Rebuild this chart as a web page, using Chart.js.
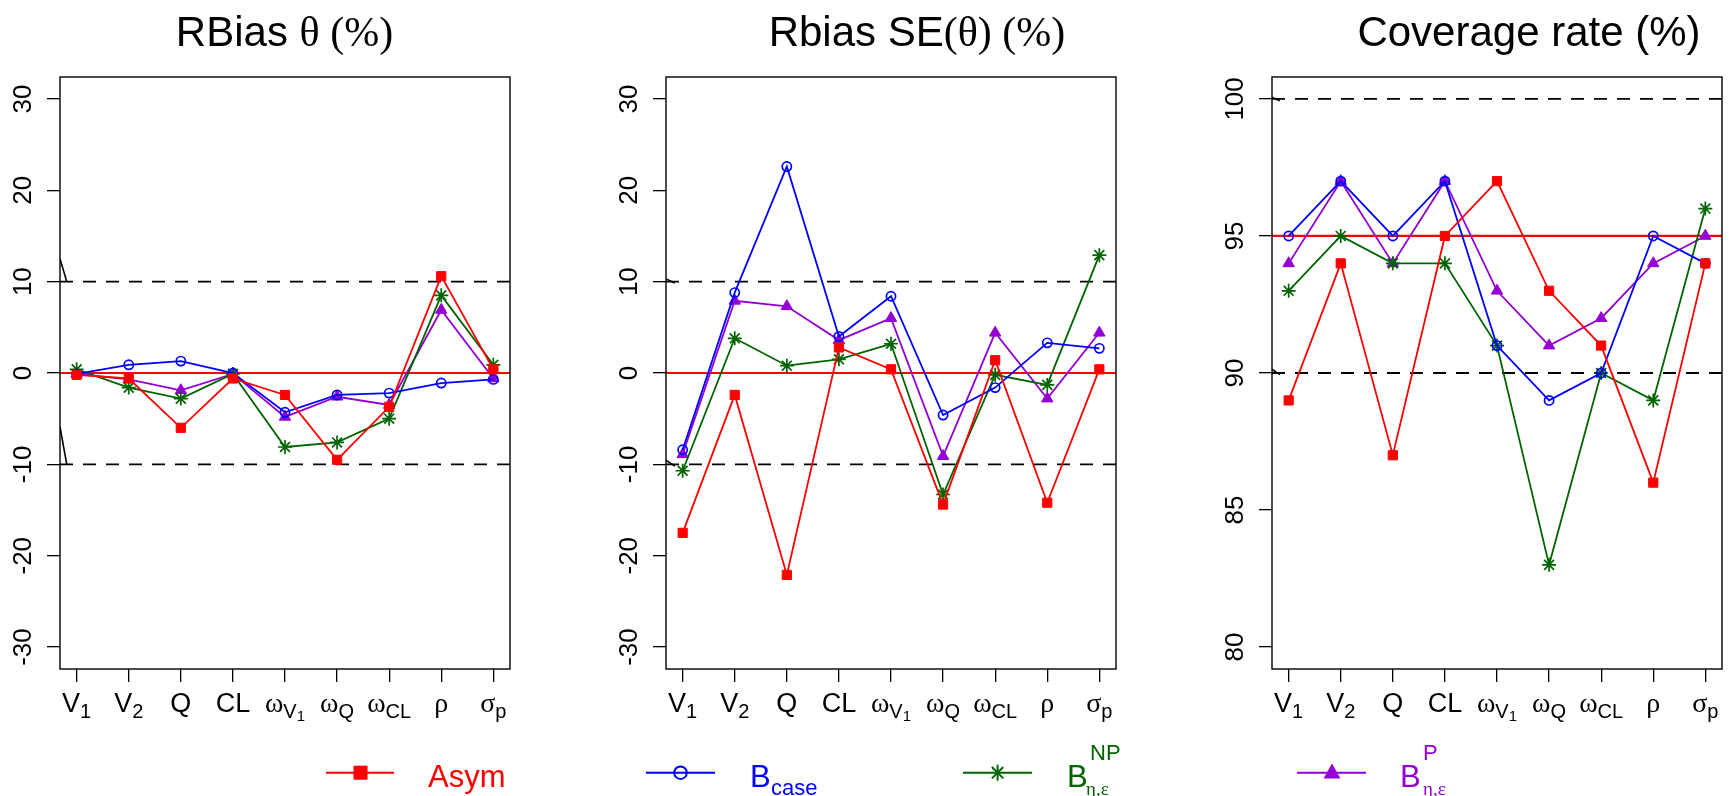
<!DOCTYPE html>
<html>
<head>
<meta charset="utf-8">
<script src="https://cdn.jsdelivr.net/npm/chart.js@4.4.1/dist/chart.umd.min.js"></script>
<style>
  html, body { margin: 0; padding: 0; background: #fff; }
  #wrap { position: relative; width: 1732px; height: 796px; overflow: hidden; background: #fff; }
  #wrap canvas { position: absolute; top: 0; }
  #overlay { position: absolute; left: 0; top: 0; pointer-events: none; }
</style>
</head>
<body>
<div id="wrap">
  <canvas id="rbiasChart" width="520" height="796" style="left:0px"></canvas>
  <canvas id="seChart" width="520" height="796" style="left:606px"></canvas>
  <canvas id="coverageChart" width="520" height="796" style="left:1212px"></canvas>

  <svg id="overlay" width="1732" height="796" xmlns="http://www.w3.org/2000/svg">
    <!-- titles -->
    <text x="284.5" y="46" text-anchor="middle" font-size="42" fill="#000"><tspan font-family="Liberation Sans">RBias </tspan><tspan font-family="Liberation Serif">θ (%)</tspan></text>
    <text x="917" y="46" text-anchor="middle" font-size="42" fill="#000"><tspan font-family="Liberation Sans">Rbias SE</tspan><tspan font-family="Liberation Serif">(θ) (%)</tspan></text>
    <text x="1529" y="46" text-anchor="middle" font-size="42" font-family="Liberation Sans" fill="#000">Coverage rate (%)</text>

    <!-- legend -->
    <line x1="326" y1="772.7" x2="394" y2="772.7" stroke="#ff0000" stroke-width="2"/>
    <rect x="353.5" y="765.7" width="14" height="14" fill="#ff0000"/>
    <text x="428" y="787" font-family="Liberation Sans" font-size="31" fill="#ff0000">Asym</text>

    <line x1="646" y1="772.7" x2="715" y2="772.7" stroke="#0000ff" stroke-width="2"/>
    <circle cx="680.5" cy="772.7" r="6.3" fill="none" stroke="#0000ff" stroke-width="2"/>
    <text x="750" y="787" font-family="Liberation Sans" font-size="31" fill="#0000ff">B</text>
    <text x="771" y="795" font-family="Liberation Sans" font-size="22" fill="#0000ff">case</text>

    <line x1="963" y1="772.7" x2="1032" y2="772.7" stroke="#006400" stroke-width="2"/>
    <g stroke="#006400" stroke-width="2">
      <line x1="997.6" y1="764.7" x2="997.6" y2="780.7"/>
      <line x1="991.9" y1="767" x2="1003.3" y2="778.4"/>
      <line x1="991.9" y1="778.4" x2="1003.3" y2="767"/>
    </g>
    <text x="1067" y="787" font-family="Liberation Sans" font-size="31" fill="#006400">B</text>
    <text x="1090" y="760" font-family="Liberation Sans" font-size="22" fill="#006400">NP</text>
    <text x="1086" y="795" font-family="Liberation Serif" font-size="19" fill="#006400">η,ε</text>

    <line x1="1297" y1="772.7" x2="1366" y2="772.7" stroke="#9400d3" stroke-width="2"/>
    <polygon points="1332,763.5 1323.5,778.5 1340.5,778.5" fill="#9400d3"/>
    <text x="1400" y="787" font-family="Liberation Sans" font-size="31" fill="#9400d3">B</text>
    <text x="1423" y="760" font-family="Liberation Sans" font-size="22" fill="#9400d3">P</text>
    <text x="1423" y="795" font-family="Liberation Serif" font-size="19" fill="#9400d3">η,ε</text>
  </svg>
</div>

<script>
// Parámetros (eje x) y etiquetas con subíndices: [texto, tipo]
// m = normal, g = griego, s = subíndice, ss = sub-subíndice
const xTickLabels = [
    [['V', 'm'], ['1', 's']],
    [['V', 'm'], ['2', 's']],
    [['Q', 'm']],
    [['CL', 'm']],
    [['ω', 'g'], ['V', 's'], ['1', 'ss']],
    [['ω', 'g'], ['Q', 's']],
    [['ω', 'g'], ['CL', 's']],
    [['ρ', 'g']],
    [['σ', 'g'], ['p', 's']]
];
const xMin = 0.68;
const xMax = 9.32;

// RBias theta (%)
const rbiasAsym  = [-0.2, -0.6, -6.0, -0.6, -2.4, -9.5, -3.7, 10.6, 0.4];
const rbiasBcase = [-0.1, 0.9, 1.3, 0.0, -4.3, -2.4, -2.2, -1.1, -0.7];
const rbiasBnp   = [0.4, -1.6, -2.8, -0.1, -8.1, -7.6, -5.0, 8.5, 0.9];
const rbiasBp    = [-0.1, -0.7, -1.9, -0.1, -4.8, -2.6, -3.5, 6.9, -0.6];
const rbiasTicks = [-30, -20, -10, 0, 10, 20, 30];
const rbiasBreaks = [[[0.68, 12.5], [0.81, 10]], [[0.68, -5.9], [0.81, -10]]];

// Rbias SE(theta) (%)
const seAsym  = [-17.5, -2.4, -22.1, 2.8, 0.4, -14.4, 1.4, -14.2, 0.4];
const seBcase = [-8.4, 8.8, 22.6, 4.0, 8.4, -4.6, -1.6, 3.3, 2.7];
const seBnp   = [-10.7, 3.8, 0.8, 1.5, 3.2, -13.3, -0.2, -1.3, 12.9];
const seBp    = [-8.9, 7.9, 7.3, 3.6, 6.0, -9.1, 4.4, -2.8, 4.4];
const seTicks = [-30, -20, -10, 0, 10, 20, 30];
const seBreaks = [[[0.68, 10.3], [0.85, 9.85]], [[0.68, -9.55], [0.85, -10.2]]];

// Coverage rate (%)
const covAsym  = [89, 94, 87, 95, 97, 93, 91, 86, 94];
const covBcase = [95, 97, 95, 97, 91, 89, 90, 95, 94];
const covBnp   = [93, 95, 94, 94, 91, 83, 90, 89, 96];
const covBp    = [94, 97, 94, 97, 93, 91, 92, 94, 95];
const covTicks = [80, 85, 90, 95, 100];
const covBreaks = [[[0.68, 100.06], [0.83, 99.93]], [[0.68, 90.14], [0.83, 89.94]]];

// Estilos de las series (Asym, Bcase, B NP, B P)
const seriesStyle = [
    { color: '#ff0000', pointStyle: 'rect',     radius: 6.5, bg: '#ff0000', bw: 1 },
    { color: '#0000ff', pointStyle: 'circle',   radius: 4.6, bg: 'rgba(0,0,0,0)', bw: 1.7 },
    { color: '#006400', pointStyle: 'star',     radius: 7.0, bg: '#006400', bw: 1.7 },
    { color: '#9400d3', pointStyle: 'triangle', radius: 6.6, bg: '#9400d3', bw: 1 }
];

function toPoints(values) {
    return values.map((v, i) => ({ x: i + 1, y: v }));
}

function hLine(y) {
    return [{ x: xMin, y: y }, { x: xMax, y: y }];
}

function refDataset(data, color, width, dash) {
    return {
        data: data,
        borderColor: color,
        borderWidth: width,
        borderDash: dash,
        pointRadius: 0,
        order: 10
    };
}

// Caja alrededor del área del gráfico
const boxPlugin = {
    id: 'box',
    afterDraw(chart) {
        const { ctx, chartArea: a } = chart;
        ctx.save();
        ctx.strokeStyle = '#000';
        ctx.lineWidth = 1.4;
        ctx.strokeRect(a.left, a.top, a.right - a.left, a.bottom - a.top);
        ctx.restore();
    }
};

// Etiquetas del eje x con subíndices
const runFonts = {
    m:  { size: 27, family: 'Liberation Sans', dy: 0 },
    g:  { size: 28, family: 'Liberation Serif', dy: 0 },
    s:  { size: 20, family: 'Liberation Sans', dy: 5.5 },
    ss: { size: 15, family: 'Liberation Sans', dy: 9 }
};
const xLabelPlugin = {
    id: 'xLabels',
    afterDraw(chart) {
        const ctx = chart.ctx;
        const xs = chart.scales.x;
        const base = chart.chartArea.bottom + 43;
        ctx.save();
        ctx.fillStyle = '#000';
        ctx.textBaseline = 'alphabetic';
        ctx.textAlign = 'left';
        xs.ticks.forEach((t, i) => {
            const runs = xTickLabels[i];
            const widths = runs.map(([txt, kind]) => {
                const f = runFonts[kind];
                ctx.font = f.size + 'px "' + f.family + '"';
                return ctx.measureText(txt).width;
            });
            const total = widths.reduce((a, b) => a + b, 0);
            let x = xs.getPixelForValue(t.value) - total / 2;
            runs.forEach(([txt, kind], k) => {
                const f = runFonts[kind];
                ctx.font = f.size + 'px "' + f.family + '"';
                ctx.fillText(txt, x, base + f.dy);
                x += widths[k];
            });
        });
        ctx.restore();
    }
};

function makePanel(id, series, cfg) {
    const datasets = [];
    series.forEach((values, k) => {
        const s = seriesStyle[k];
        datasets.push({
            data: toPoints(values),
            borderColor: s.color,
            borderWidth: 1.8,
            pointStyle: s.pointStyle,
            pointRadius: s.radius,
            pointBackgroundColor: s.bg,
            pointBorderColor: s.color,
            pointBorderWidth: s.bw,
            order: k
        });
    });
    datasets.push(refDataset(hLine(cfg.target), '#ff0000', 2.2, []));
    cfg.limits.forEach(v => datasets.push(refDataset(hLine(v), '#000', 1.8, [13, 10])));
    cfg.breaks.forEach(b => datasets.push(refDataset(b.map(p => ({ x: p[0], y: p[1] })), '#000', 1.6, [])));

    return new Chart(document.getElementById(id), {
        type: 'line',
        data: { datasets: datasets },
        options: {
            responsive: false,
            animation: false,
            devicePixelRatio: 1,
            layout: { padding: { left: 0, top: 77, right: 10, bottom: 0 } },
            plugins: {
                legend: { display: false },
                tooltip: { enabled: false },
                title: { display: false }
            },
            scales: {
                x: {
                    type: 'linear',
                    min: xMin,
                    max: xMax,
                    afterBuildTicks: scale => {
                        scale.ticks = xTickLabels.map((_, i) => ({ value: i + 1 }));
                    },
                    afterFit: scale => { scale.height = 127; },
                    ticks: { display: false },
                    grid: { drawOnChartArea: false, drawTicks: true, tickLength: 13, color: '#000', lineWidth: 1.3 },
                    border: { display: false }
                },
                y: {
                    type: 'linear',
                    min: cfg.yMin,
                    max: cfg.yMax,
                    afterBuildTicks: scale => {
                        scale.ticks = cfg.yTicks.map(v => ({ value: v }));
                    },
                    afterFit: scale => { scale.width = 60; },
                    ticks: {
                        color: '#000',
                        font: { family: 'Liberation Sans', size: 26 },
                        minRotation: 90,
                        maxRotation: 90,
                        crossAlign: 'center',
                        padding: cfg.tickPad,
                        callback: v => String(v)
                    },
                    grid: { drawOnChartArea: false, drawTicks: true, tickLength: 13, color: '#000', lineWidth: 1.3 },
                    border: { display: false }
                }
            }
        },
        plugins: [boxPlugin, xLabelPlugin]
    });
}

// padding = 23 - (ancho de la etiqueta más ancha) / 2, para centrar a 36 px del eje
makePanel('rbiasChart', [rbiasAsym, rbiasBcase, rbiasBnp, rbiasBp], {
    target: 0, limits: [-10, 10], yMin: -32.4, yMax: 32.4, yTicks: rbiasTicks, breaks: rbiasBreaks, tickPad: 4.2
});
makePanel('seChart', [seAsym, seBcase, seBnp, seBp], {
    target: 0, limits: [-10, 10], yMin: -32.4, yMax: 32.4, yTicks: seTicks, breaks: seBreaks, tickPad: 4.2
});
makePanel('coverageChart', [covAsym, covBcase, covBnp, covBp], {
    target: 95, limits: [90, 100], yMin: 79.2, yMax: 100.8, yTicks: covTicks, breaks: covBreaks, tickPad: 1.3
});
</script>
</body>
</html>
